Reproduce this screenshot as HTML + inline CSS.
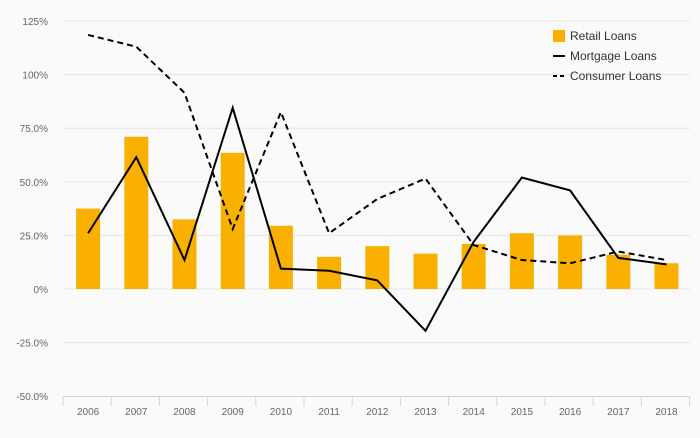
<!DOCTYPE html>
<html><head><meta charset="utf-8"><style>
body{margin:0;background:#fafafa;font-family:"Liberation Sans",sans-serif}
svg text{font-family:"Liberation Sans",sans-serif}
</style></head><body>
<svg id="c" width="700" height="433" xmlns="http://www.w3.org/2000/svg"></svg>
<script>
const years=["2006","2007","2008","2009","2010","2011","2012","2013","2014","2015","2016","2017","2018"];
const retail=[37.5,71,32.5,63.5,29.5,15,20,16.5,21,26,25,16,12];
const mortgage=[26,61.5,13.5,84.5,9.5,8.5,4,-19.5,22,52,46,14.5,11.5];
const consumer=[118.5,113,91.5,28,82.5,26,42,51.5,20.5,13.5,12,17.5,13.5];
const yTicks=[125,100,75,50,25,0,-25,-50];
const yLabels=["125%","100%","75.0%","50.0%","25.0%","0%","-25.0%","-50.0%"];
const svg=document.getElementById('c');const NS='http://www.w3.org/2000/svg';
const x0=63,step=48.2;
function X(i){return x0+1+step*(i+0.5);}
function Y(v){return 289-v*2.144;}
function mk(t,a,p){const e=document.createElementNS(NS,t);for(const k in a)e.setAttribute(k,a[k]);(p||svg).appendChild(e);return e;}
yTicks.forEach((v,i)=>{
 if(v>-50){const g=mk('line',{x1:x0,x2:690,y1:Y(v),y2:Y(v),stroke:'#e6e6e6','stroke-width':1});
 
 }
 const t=mk('text',{x:48,y:Y(v)+4,'text-anchor':'end','font-size':10,fill:'#666'});t.textContent=yLabels[i];
 
 
});
const ax=mk('line',{x1:x0,x2:690,y1:396.5,y2:396.5,stroke:'#ccd6eb'});


for(let i=0;i<=years.length;i++){const t=mk('line',{x1:x0+step*i,x2:x0+step*i,y1:396,y2:406,stroke:'#ccd6eb'});
 
 }
years.forEach((y,i)=>{const t=mk('text',{x:X(i),y:415,'text-anchor':'middle','font-size':10,fill:'#666'});t.textContent=y;
 
 });
retail.forEach((v,i)=>{const b=mk('rect',{x:X(i)-12,y:Math.min(Y(v),Y(0)),width:24,height:Math.abs(Y(v)-Y(0)),fill:'#f9b000'});
 
 });
function line(d,dash,name){const p=mk('polyline',{points:d.map((v,i)=>X(i)+','+Y(v)).join(' '),fill:'none',stroke:'#000','stroke-width':2,'stroke-dasharray':dash});
 
 }
line(mortgage,'none','mortgage-line');
line(consumer,'6,4','consumer-line');
const lg=mk('g',{});


const names=["Retail Loans","Mortgage Loans","Consumer Loans"];
names.forEach((n,i)=>{const y=36+i*20;
 if(i==0)mk('rect',{x:553,y:y-6,width:12,height:12,fill:'#f9b000'},lg);
 else mk('line',{x1:553,x2:565,y1:y,y2:y,stroke:'#000','stroke-width':2,'stroke-dasharray':i==2?'4,3':'none'},lg);
 const t=mk('text',{x:570,y:y+4,'font-size':12,fill:'#333'},lg);t.textContent=n;
 
 });
</script>
</body></html>
